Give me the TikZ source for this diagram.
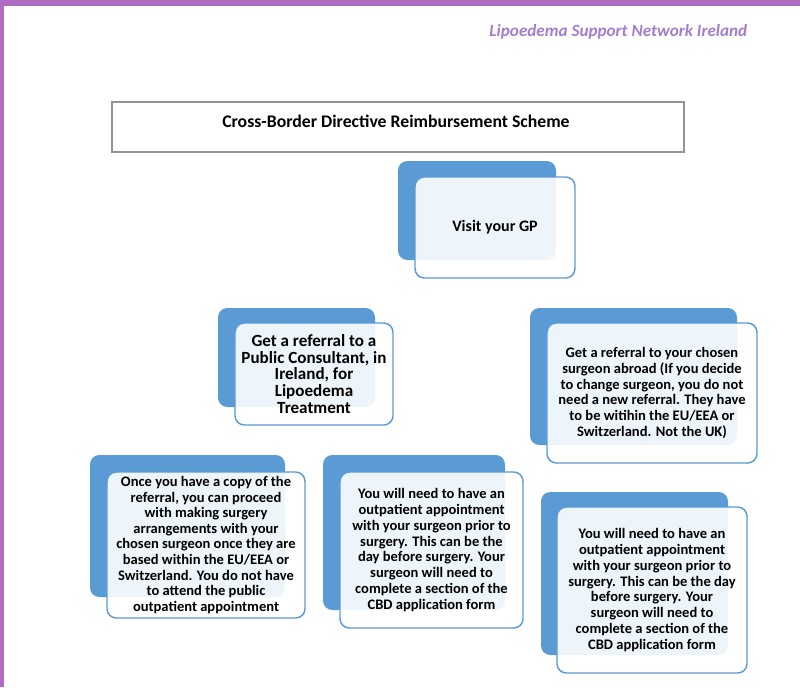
\documentclass[tikz,border=0pt]{standalone}
\usepackage{fontspec}
\setmainfont{Carlito}
\usetikzlibrary{backgrounds}
\definecolor{band}{RGB}{176,108,192}
\definecolor{hdr}{RGB}{165,125,205}
\definecolor{sablue}{RGB}{91,155,213}
\def\u{0.75pt}
\tikzset{
  backbox/.style={fill=sablue, draw=none, rounded corners=7pt},
  frontbox/.style={draw=sablue, line width=1.1pt, rounded corners=7pt, fill=white, fill opacity=0.9, text opacity=1, align=center, inner sep=0pt, font=\fontsize{10.9}{11.9}\selectfont\bfseries},
  conn/.style={draw=sablue, line width=0.8pt},
  titlebox/.style={draw=gray!85, line width=0.9pt, inner sep=0pt}
}
\begin{document}
\begin{tikzpicture}[x=0.75pt,y=-0.75pt]
\useasboundingbox (0,0) rectangle (800,687);
\fill[white] (0,0) rectangle (800,687);
\fill[band] (0,0) rectangle (800,6);
\fill[band] (0,0) rectangle (4,687);
\node[text=hdr, font=\fontsize{12.85}{14}\selectfont\bfseries\itshape, anchor=east] (hdr) at (752,32) {Lipoedema Support Network Ireland};
% title
\node[titlebox, minimum width=572*\u, minimum height=50*\u] (title) at (398,127) {};
\node[font=\fontsize{13.3}{15}\selectfont\bfseries] (titletxt) at (396,121) {Cross-Border Directive Reimbursement Scheme};
% back boxes
\node[backbox, minimum width=158*\u, minimum height=99*\u] (gpb) at (477,210.5) {};
\node[backbox, minimum width=157*\u, minimum height=99*\u] (lb) at (296.5,357.5) {};
\node[backbox, minimum width=207*\u, minimum height=137*\u] (rb) at (633.5,376.5) {};
\node[backbox, minimum width=195*\u, minimum height=142*\u] (blb) at (187.5,526) {};
\node[backbox, minimum width=182*\u, minimum height=155*\u] (bmb) at (414,532.5) {};
\node[backbox, minimum width=187*\u, minimum height=163*\u] (brb) at (634.5,573.5) {};
% front boxes
\node[frontbox, minimum width=160*\u, minimum height=101*\u, font=\fontsize{12}{13}\selectfont\bfseries] (gp) at (495,227.5) {Visit your GP};
\node[frontbox, minimum width=158*\u, minimum height=102*\u, font=\fontsize{12.8}{12.5}\selectfont\bfseries] (l) at (314,374) {Get a referral to a\\Public Consultant, in\\Ireland, for\\Lipoedema\\Treatment};
\node[frontbox, minimum width=210*\u, minimum height=140*\u] (r) at (652,393) {Get a referral to your chosen\\surgeon abroad (If you decide\\to change surgeon, you do not\\need a new referral. They have\\to be witihin the EU/EEA or\\Switzerland. Not the UK)};
\node[frontbox, minimum width=198*\u, minimum height=146*\u, font=\fontsize{10.9}{11.7}\selectfont\bfseries] (bl) at (206,545) {Once you have a copy of the\\referral, you can proceed\\with making surgery\\arrangements with your\\chosen surgeon once they are\\based within the EU/EEA or\\Switzerland. You do not have\\to attend the public\\outpatient appointment};
\node[frontbox, minimum width=183*\u, minimum height=156*\u] (bm) at (431.5,550) {You will need to have an\\outpatient appointment\\with your surgeon prior to\\surgery. This can be the\\day before surgery. Your\\surgeon will need to\\complete a section of the\\CBD application form};
\node[frontbox, minimum width=190*\u, minimum height=166*\u] (br) at (652,590) {You will need to have an\\outpatient appointment\\with your surgeon prior to\\surgery. This can be the day\\before surgery. Your\\surgeon will need to\\complete a section of the\\CBD application form};
% connectors
\coordinate (j1) at (477,293);
\coordinate (j2) at (296.5,441);
\begin{scope}[on background layer]
\draw[conn] (gpb.south) -- (j1) -| (lb.north);
\draw[conn] (j1) -| (rb.north);
\draw[conn] (lb.south) -- (j2) -| (blb.north);
\draw[conn] (j2) -| (bmb.north);
\draw[conn] (rb.south) -- (brb.north);
\end{scope}
\end{tikzpicture}
\end{document}
